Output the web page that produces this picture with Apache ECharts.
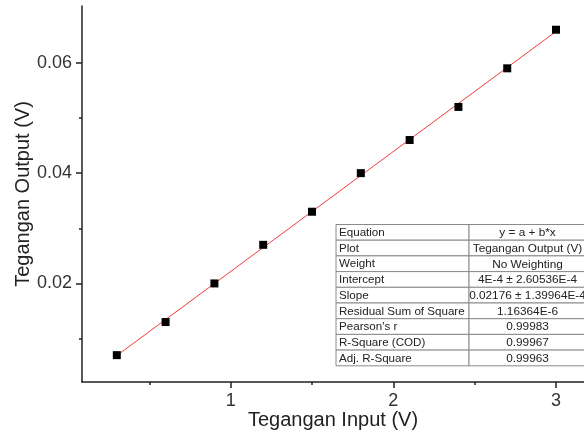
<!DOCTYPE html>
<html><head><meta charset="utf-8">
<script src="https://cdn.jsdelivr.net/npm/echarts@6/dist/echarts.min.js"></script>
<style>html,body{margin:0;padding:0;background:#fff}#c{width:584px;height:445px}</style>
</head><body><div id="c"></div>
<script>
const inputV = [0.3, 0.6, 0.9, 1.2, 1.5, 1.8, 2.1, 2.4, 2.7, 3.0];
const outputV = [0.007, 0.013, 0.020, 0.027, 0.033, 0.040, 0.046, 0.052, 0.059, 0.066];
const fitIntercept = 4E-4;
const fitSlope = 0.02176;
const fitRange = [0.3, 3.0];
const xMajorTicks = [1, 2, 3];
const xMinorTicks = [0.5, 1.5, 2.5];
const yMajorTicks = [0.02, 0.04, 0.06];
const yMinorTicks = [0.01, 0.03, 0.05];
const tableLabels = ['Equation','Plot','Weight','Intercept','Slope','Residual Sum of Square',"Pearson's r",'R-Square (COD)','Adj. R-Square'];
const tableValues = ['y = a + b*x','Tegangan Output (V)','No Weighting','4E-4 \u00b1 2.60536E-4','0.02176 \u00b1 1.39964E-4','1.16364E-6','0.99983','0.99967','0.99963'];

const X_MIN = 0.086, X_MAX = 3.172, Y_MIN = 0.00213, Y_MAX = 0.0703;
const FONT = '"Liberation Sans", Arial, sans-serif';
const fitData = fitRange.map(x => [x, fitIntercept + fitSlope * x]);

const gridBox = {left: 82, top: 6, right: 0, bottom: 63, outerBoundsMode: 'none', containLabel: false};
const tbl = {x: 336, y: 224.5, w1: 133, w2: 117, h: 15.7};
const graphics = [];
tableLabels.forEach((lab, i) => {
  const y = tbl.y + i * tbl.h;
  graphics.push({type:'rect', shape:{x:tbl.x, y:y, width:tbl.w1, height:tbl.h}, style:{fill:'#fff', stroke:'#8a8a8a', lineWidth:1}, z:10});
  graphics.push({type:'rect', shape:{x:tbl.x+tbl.w1, y:y, width:tbl.w2, height:tbl.h}, style:{fill:'#fff', stroke:'#8a8a8a', lineWidth:1}, z:10});
  graphics.push({type:'text', x:tbl.x+3, y:y+tbl.h/2+0.5, style:{text:lab, fill:'#222', font:'11.6px '+FONT, textAlign:'left', textVerticalAlign:'middle'}, z:11});
  graphics.push({type:'text', x:tbl.x+tbl.w1+tbl.w2/2, y:y+tbl.h/2+0.5, style:{text:tableValues[i], fill:'#222', font:'11.8px '+FONT, textAlign:'center', textVerticalAlign:'middle'}, z:11});
});

const chart = echarts.init(document.getElementById('c'), null, {renderer:'canvas'});
chart.setOption({
  animation: false,
  backgroundColor: '#fff',
  grid: [Object.assign({}, gridBox), Object.assign({}, gridBox)],
  xAxis: [{
    type:'value', gridIndex:0, min:X_MIN, max:X_MAX,
    name:'Tegangan Input (V)', nameLocation:'middle', nameGap:28, nameMoveOverlap:false,
    nameTextStyle:{fontFamily:FONT, fontSize:20, color:'#222'},
    axisLine:{show:true, onZero:false, lineStyle:{color:'#222', width:1.5}},
    axisTick:{show:true, inside:false, length:6, customValues:xMajorTicks, lineStyle:{color:'#222', width:1.5}},
    axisLabel:{show:true, customValues:xMajorTicks, margin:10, fontFamily:FONT, fontSize:18, color:'#333', formatter: v => String(v)},
    splitLine:{show:false}
  },{
    type:'value', gridIndex:1, min:X_MIN, max:X_MAX,
    axisLine:{show:false, onZero:false},
    axisTick:{show:true, inside:false, length:3, customValues:xMinorTicks, lineStyle:{color:'#222', width:1.5}},
    axisLabel:{show:false}, splitLine:{show:false}
  }],
  yAxis: [{
    type:'value', gridIndex:0, min:Y_MIN, max:Y_MAX,
    name:'Tegangan Output (V)', nameLocation:'middle', nameGap:49, nameMoveOverlap:false,
    nameTextStyle:{fontFamily:FONT, fontSize:20, color:'#222'},
    axisLine:{show:true, onZero:false, lineStyle:{color:'#222', width:1.5}},
    axisTick:{show:true, inside:false, length:6, customValues:yMajorTicks, lineStyle:{color:'#222', width:1.5}},
    axisLabel:{show:true, customValues:yMajorTicks, margin:10, fontFamily:FONT, fontSize:18, color:'#333', formatter: v => v.toFixed(2)},
    splitLine:{show:false}
  },{
    type:'value', gridIndex:1, min:Y_MIN, max:Y_MAX,
    axisLine:{show:false, onZero:false},
    axisTick:{show:true, inside:false, length:3, customValues:yMinorTicks, lineStyle:{color:'#222', width:1.5}},
    axisLabel:{show:false}, splitLine:{show:false}
  }],
  series: [{
    type:'line', xAxisIndex:0, yAxisIndex:0, data:fitData, showSymbol:false, symbol:'none',
    lineStyle:{color:'#f03c3c', width:1}, z:2, silent:true
  },{
    type:'scatter', xAxisIndex:0, yAxisIndex:0,
    data: inputV.map((x, i) => [x, outputV[i]]),
    symbol:'rect', symbolSize:8, itemStyle:{color:'#000', opacity:1}, z:3
  }],
  graphic: graphics
});
</script></body></html>
